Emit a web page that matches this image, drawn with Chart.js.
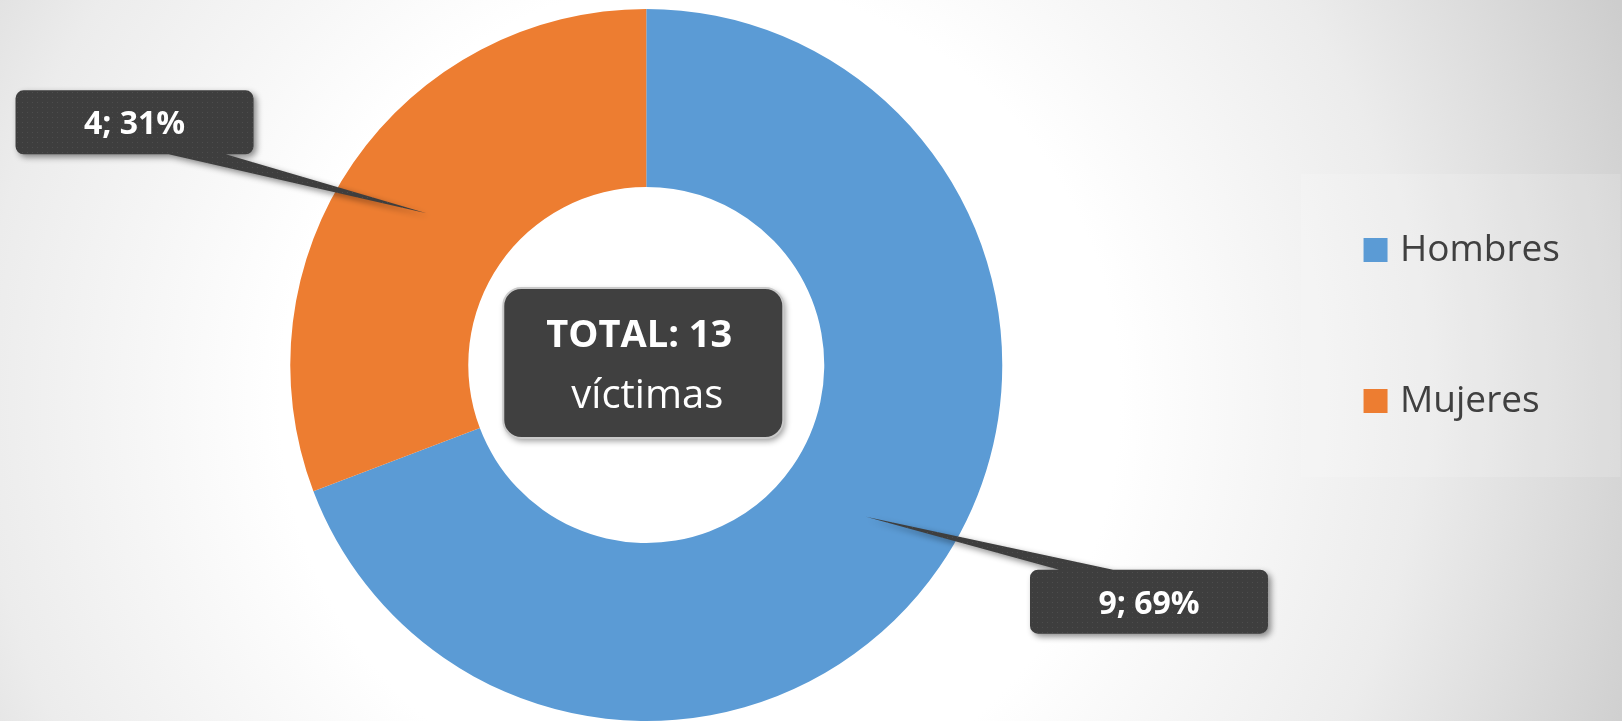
<!DOCTYPE html>
<html>
<head>
<meta charset="utf-8">
<script src="https://cdn.jsdelivr.net/npm/chart.js@4/dist/chart.umd.min.js"></script>
<style>
  html, body { margin: 0; padding: 0; }
  body {
    width: 1622px; height: 721px; overflow: hidden;
    background: radial-gradient(circle at 700px 400px, #ffffff 0px, #ffffff 420px, #ececec 720px, #cdcdcd 1000px);
  }
  canvas { display: block; }
</style>
</head>
<body>
<canvas id="c" width="1622" height="721"></canvas>
<script>
// ---- data ----
const categories = ['Hombres', 'Mujeres'];
const victims = [9, 4];
const totalLabel = 'TOTAL: ';
const unitLabel = 'víctimas';

const sliceColors = ['#5B9BD5', '#ED7D31'];
const FONT = '"Open Sans", "Noto Sans", sans-serif';

// dotted dark fill for label boxes
function makePattern(ctx) {
  const t = document.createElement('canvas');
  t.width = 5; t.height = 5;
  const g = t.getContext('2d');
  g.fillStyle = '#3e3e3e';
  g.fillRect(0, 0, 5, 5);
  g.fillStyle = '#4d4d4d';
  g.fillRect(2, 2, 1, 1);
  return ctx.createPattern(t, 'repeat');
}

const legendPanel = {
  id: 'legendPanel',
  beforeDraw(chart) {
    const lg = chart.legend;
    if (!lg || !lg.legendHitBoxes || lg.legendHitBoxes.length < 2) return;
    const hb = lg.legendHitBoxes;
    const ctx = chart.ctx;
    const left = hb[0].left - 69;
    const top = hb[0].top - 57.5;
    const bottom = hb[1].top + hb[1].height + 57.5;
    ctx.save();
    ctx.fillStyle = 'rgba(255,255,255,0.15)';
    ctx.fillRect(left, top, 320, bottom - top);
    ctx.restore();
  }
};

const callouts = {
  id: 'callouts',
  afterDatasetsDraw(chart, args, opts) {
    const ctx = chart.ctx;
    const meta = chart.getDatasetMeta(0);
    const data = chart.data.datasets[0].data;
    const total = data.reduce((a, b) => a + b, 0);
    const pat = makePattern(ctx);

    // data label callouts
    meta.data.forEach((arc, i) => {
      const tip = arc.tooltipPosition();
      const o = opts.offsets[i];
      const w = opts.boxW, h = opts.boxH;
      const cx = tip.x + o.dx, cy = tip.y + o.dy;
      const left = cx - w / 2, top = cy - h / 2;
      const baseY = o.dy < 0 ? top + h - 3 : top + 3;
      let p1 = {x: left + o.b1, y: baseY}, p2 = {x: left + o.b2, y: baseY};
      const area = (p1.x * tip.y - tip.x * p1.y) + (tip.x * p2.y - p2.x * tip.y) + (p2.x * p1.y - p1.x * p2.y);
      if (area < 0) { const t = p1; p1 = p2; p2 = t; }
      ctx.save();
      ctx.shadowColor = 'rgba(0,0,0,0.45)';
      ctx.shadowBlur = 6;
      ctx.shadowOffsetX = 3;
      ctx.shadowOffsetY = 3;
      ctx.fillStyle = pat;
      ctx.beginPath();
      ctx.roundRect(left, top, w, h, 8);
      ctx.moveTo(p1.x, p1.y);
      ctx.lineTo(tip.x, tip.y);
      ctx.lineTo(p2.x, p2.y);
      ctx.closePath();
      ctx.fill();
      ctx.restore();

      const text = data[i] + '; ' + Math.round(data[i] / total * 100) + '%';
      ctx.save();
      ctx.fillStyle = '#ffffff';
      ctx.font = 'bold 32px ' + FONT;
      ctx.textAlign = 'center';
      ctx.textBaseline = 'alphabetic';
      ctx.fillText(text, cx, cy + 12);
      ctx.restore();
    });

    // center total box
    const c = meta.data[0];
    const bw = 280, bh = 150;
    const bx = c.x - 3 - bw / 2, by = c.y - 2 - bh / 2;
    ctx.save();
    ctx.shadowColor = 'rgba(0,0,0,0.4)';
    ctx.shadowBlur = 6;
    ctx.shadowOffsetX = 2;
    ctx.shadowOffsetY = 3;
    ctx.fillStyle = '#404040';
    ctx.beginPath();
    ctx.roundRect(bx, by, bw, bh, 18);
    ctx.fill();
    ctx.restore();
    ctx.save();
    ctx.strokeStyle = '#c9c9c9';
    ctx.lineWidth = 2;
    ctx.beginPath();
    ctx.roundRect(bx, by, bw, bh, 18);
    ctx.stroke();
    ctx.fillStyle = '#ffffff';
    ctx.textAlign = 'center';
    ctx.textBaseline = 'alphabetic';
    ctx.font = 'bold 38px ' + FONT;
    ctx.fillText(totalLabel + total, bx + bw / 2 - 4, by + 59);
    ctx.font = '40px ' + FONT;
    ctx.fillText(unitLabel, bx + bw / 2 + 4, by + 120);
    ctx.restore();
  }
};

new Chart(document.getElementById('c'), {
  type: 'doughnut',
  data: {
    labels: categories,
    datasets: [{
      data: victims,
      backgroundColor: sliceColors,
      borderWidth: 0,
      hoverOffset: 0
    }]
  },
  options: {
    responsive: false,
    animation: false,
    cutout: '50%',
    layout: { padding: { top: 9, bottom: 0, left: 37, right: 52 } },
    plugins: {
      tooltip: { enabled: false },
      legend: {
        display: true,
        position: 'right',
        align: 'start',
        title: { display: true, text: '', padding: { top: 107.5, bottom: 0 }, font: { size: 1, lineHeight: 1 } },
        labels: {
          usePointStyle: true,
          pointStyle: 'rect',
          boxWidth: 12,
          boxHeight: 24,
          padding: 114,
          color: '#404040',
          font: { family: FONT, size: 37 }
        }
      },
      callouts: {
        boxW: 238,
        boxH: 64,
        offsets: [
          { dx: 283, dy: 85, b1: 40, b2: 97 },
          { dx: -292, dy: -91, b1: 140, b2: 200 }
        ]
      }
    }
  },
  plugins: [legendPanel, callouts]
});
</script>
</body>
</html>
